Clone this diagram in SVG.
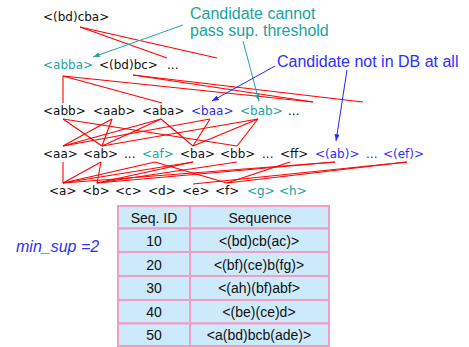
<svg xmlns="http://www.w3.org/2000/svg" width="469" height="347" viewBox="0 0 469 347">
  <style>
    .seq { font-family: "DejaVu Sans", Verdana, sans-serif; font-size: 12px; fill: #111; }
    .teal { fill: #20a39f; }
    .blue { fill: #2e2eff; }
    .note { font-family: "Liberation Sans", Arial, sans-serif; font-size: 16px; }
    .edge { stroke: #ff0000; stroke-width: 1.1; fill: none; }
    .tline { stroke: #20a39f; stroke-width: 1; fill: none; }
    .bline { stroke: #2424ff; stroke-width: 1; fill: none; }
    .cell { fill: #cdeafa; stroke: #f29cc6; stroke-width: 2; }
    .tab { font-family: "Liberation Sans", Arial, sans-serif; font-size: 14px; fill: #111; text-anchor: middle; }
  </style>
  <defs>
    <marker id="arrT" viewBox="0 0 8 6" refX="8" refY="3" markerWidth="7" markerHeight="5" markerUnits="userSpaceOnUse" orient="auto">
      <path d="M0,0 L8,3 L0,6 Z" fill="#20a39f"/>
    </marker>
    <marker id="arrB" viewBox="0 0 8 6" refX="8" refY="3" markerWidth="7" markerHeight="5" markerUnits="userSpaceOnUse" orient="auto">
      <path d="M0,0 L8,3 L0,6 Z" fill="#2424ff"/>
    </marker>
  </defs>

  <!-- lattice edges -->
  <g id="connectors">
    <!-- level 0 to level 1 -->
    <line class="edge" x1="80" y1="27" x2="167" y2="58"/>
    <line class="edge" x1="80" y1="27" x2="217" y2="58"/>
    <!-- level 1 to level 2 -->
    <line class="edge" x1="63" y1="76" x2="63" y2="103"/>
    <line class="edge" x1="63" y1="76" x2="162" y2="103"/>
    <line class="edge" x1="63" y1="76" x2="313" y2="102"/>
    <line class="edge" x1="133" y1="75" x2="313" y2="102"/>
    <line class="edge" x1="133" y1="75" x2="363" y2="102"/>
    <!-- level 2 to level 3 -->
    <line class="edge" x1="63" y1="119" x2="102" y2="146"/>
    <line class="edge" x1="63" y1="119" x2="237" y2="146"/>
    <line class="edge" x1="112" y1="119" x2="63" y2="146"/>
    <line class="edge" x1="112" y1="119" x2="102" y2="146"/>
    <line class="edge" x1="161" y1="119" x2="63" y2="146"/>
    <line class="edge" x1="161" y1="119" x2="102" y2="146"/>
    <line class="edge" x1="161" y1="119" x2="193" y2="146"/>
    <line class="edge" x1="210" y1="119" x2="63" y2="146"/>
    <line class="edge" x1="210" y1="119" x2="193" y2="146"/>
    <line class="edge" x1="258" y1="119" x2="102" y2="146"/>
    <line class="edge" x1="258" y1="119" x2="193" y2="146"/>
    <line class="edge" x1="258" y1="119" x2="237" y2="146"/>
    <!-- level 3 to level 4 -->
    <line class="edge" x1="63" y1="162" x2="63" y2="183"/>
    <line class="edge" x1="101" y1="162" x2="63" y2="183"/>
    <line class="edge" x1="101" y1="162" x2="97" y2="183"/>
    <line class="edge" x1="155" y1="162" x2="63" y2="183"/>
    <line class="edge" x1="155" y1="162" x2="227" y2="183"/>
    <line class="edge" x1="193" y1="162" x2="63" y2="183"/>
    <line class="edge" x1="193" y1="162" x2="97" y2="183"/>
    <line class="edge" x1="237" y1="162" x2="97" y2="183"/>
    <line class="edge" x1="290" y1="162" x2="227" y2="183"/>
    <line class="edge" x1="335" y1="162" x2="63" y2="183"/>
    <line class="edge" x1="335" y1="162" x2="97" y2="183"/>
    <line class="edge" x1="407" y1="162" x2="193" y2="184"/>
    <line class="edge" x1="407" y1="162" x2="227" y2="183"/>
    <!-- callout pointers -->
    <line class="tline" x1="183" y1="25" x2="93" y2="57" marker-end="url(#arrT)"/>
    <line class="tline" x1="243" y1="41" x2="259" y2="101" marker-end="url(#arrT)"/>
    <line class="bline" x1="275" y1="66" x2="212" y2="101" marker-end="url(#arrB)"/>
    <line class="bline" x1="347" y1="70" x2="336" y2="141" marker-end="url(#arrB)"/>
  </g>

  <!-- level 0 -->
  <g id="n-bdcba"><text class="seq" x="43" y="21">&lt;(bd)cba&gt;</text></g>
  <!-- level 1 -->
  <g id="n-abba"><text class="seq teal" x="43" y="69">&lt;abba&gt;</text></g>
  <g id="n-bdbc"><text class="seq" x="99" y="69">&lt;(bd)bc&gt;</text></g>
  <g id="n-l1-more"><text class="seq" x="167" y="69">...</text></g>
  <!-- level 2 -->
  <g id="n-abb"><text class="seq" x="43" y="115">&lt;abb&gt;</text></g>
  <g id="n-aab"><text class="seq" x="93" y="115">&lt;aab&gt;</text></g>
  <g id="n-aba"><text class="seq" x="142" y="115">&lt;aba&gt;</text></g>
  <g id="n-baa"><text class="seq blue" x="191" y="115">&lt;baa&gt;</text></g>
  <g id="n-bab"><text class="seq teal" x="240" y="115">&lt;bab&gt;</text></g>
  <g id="n-l2-more"><text class="seq" x="288" y="115">...</text></g>
  <!-- level 3 -->
  <g id="n-aa"><text class="seq" x="43" y="158">&lt;aa&gt;</text></g>
  <g id="n-ab"><text class="seq" x="83" y="158">&lt;ab&gt;</text></g>
  <g id="n-l3-more1"><text class="seq" x="124" y="158">...</text></g>
  <g id="n-af"><text class="seq teal" x="142" y="158">&lt;af&gt;</text></g>
  <g id="n-ba"><text class="seq" x="180" y="158">&lt;ba&gt;</text></g>
  <g id="n-bb"><text class="seq" x="220" y="158">&lt;bb&gt;</text></g>
  <g id="n-l3-more2"><text class="seq" x="262" y="158">...</text></g>
  <g id="n-ff"><text class="seq" x="280" y="158">&lt;ff&gt;</text></g>
  <g id="n-pab"><text class="seq blue" x="315" y="158">&lt;(ab)&gt;</text></g>
  <g id="n-l3-more3"><text class="seq blue" x="366" y="158">...</text></g>
  <g id="n-pef"><text class="seq blue" x="383" y="158">&lt;(ef)&gt;</text></g>
  <!-- level 4 -->
  <g id="n-a"><text class="seq" x="49" y="195">&lt;a&gt;</text></g>
  <g id="n-b"><text class="seq" x="82" y="195">&lt;b&gt;</text></g>
  <g id="n-c"><text class="seq" x="115" y="195">&lt;c&gt;</text></g>
  <g id="n-d"><text class="seq" x="148" y="195">&lt;d&gt;</text></g>
  <g id="n-e"><text class="seq" x="182" y="195">&lt;e&gt;</text></g>
  <g id="n-f"><text class="seq" x="215" y="195">&lt;f&gt;</text></g>
  <g id="n-g"><text class="seq teal" x="247" y="195">&lt;g&gt;</text></g>
  <g id="n-h"><text class="seq teal" x="279" y="195">&lt;h&gt;</text></g>

  <!-- callouts -->
  <g id="note-threshold">
    <text class="note teal" x="190" y="19">Candidate cannot</text>
    <text class="note teal" x="190" y="36">pass sup. threshold</text>
  </g>
  <g id="note-notindb">
    <text class="note blue" x="277" y="67">Candidate not in DB at all</text>
  </g>

  <!-- support threshold -->
  <g id="minsup">
    <text x="16" y="252" font-family="'Liberation Sans', Arial, sans-serif" font-size="16" font-style="italic" fill="#2e2eff">min_sup =2</text>
  </g>

  <!-- sequence database -->
  <g id="seq-table">
    <rect class="cell" x="118" y="206" width="72" height="22.5"/>
    <rect class="cell" x="190" y="206" width="139" height="22.5"/>
    <rect class="cell" x="118" y="228.5" width="72" height="23.5"/>
    <rect class="cell" x="190" y="228.5" width="139" height="23.5"/>
    <rect class="cell" x="118" y="252" width="72" height="24"/>
    <rect class="cell" x="190" y="252" width="139" height="24"/>
    <rect class="cell" x="118" y="276" width="72" height="24"/>
    <rect class="cell" x="190" y="276" width="139" height="24"/>
    <rect class="cell" x="118" y="300" width="72" height="23.5"/>
    <rect class="cell" x="190" y="300" width="139" height="23.5"/>
    <rect class="cell" x="118" y="323.5" width="72" height="22.5"/>
    <rect class="cell" x="190" y="323.5" width="139" height="22.5"/>
    <text class="tab" x="154" y="223">Seq. ID</text>
    <text class="tab" x="260" y="223">Sequence</text>
    <text class="tab" x="154" y="246">10</text>
    <text class="tab" x="259" y="246">&lt;(bd)cb(ac)&gt;</text>
    <text class="tab" x="154" y="270">20</text>
    <text class="tab" x="259" y="270">&lt;(bf)(ce)b(fg)&gt;</text>
    <text class="tab" x="154" y="293">30</text>
    <text class="tab" x="259" y="293">&lt;(ah)(bf)abf&gt;</text>
    <text class="tab" x="154" y="317">40</text>
    <text class="tab" x="259" y="317">&lt;(be)(ce)d&gt;</text>
    <text class="tab" x="154" y="340">50</text>
    <text class="tab" x="259" y="340">&lt;a(bd)bcb(ade)&gt;</text>
  </g>
</svg>
